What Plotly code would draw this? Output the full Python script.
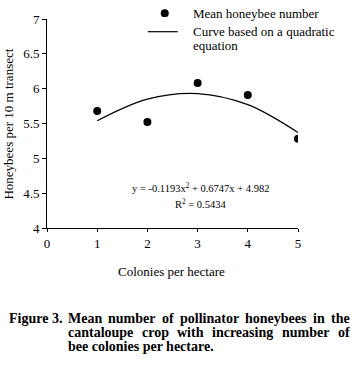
import plotly.graph_objects as go

colonies = [1, 2, 3, 4, 5]
mean_bees = [5.68, 5.52, 6.08, 5.91, 5.28]
curve_x = [1, 2, 3, 4, 5]
curve_y = [5.54, 5.85, 5.93, 5.77, 5.37]
x_ticks = [0, 1, 2, 3, 4, 5]
y_ticks = [4, 4.5, 5, 5.5, 6, 6.5, 7]

W, H = 356, 374
L, R, T, B = 47, 298.5, 14, 228

def px(x):
    return (x - L) / (R - L)

def py(y):
    return (B - y) / (B - T)

SERIF = "Liberation Serif, Times New Roman, serif"

fig = go.Figure()
fig.add_trace(go.Scatter(x=colonies, y=mean_bees, mode="markers",
                         marker=dict(color="black", size=8), showlegend=False))
fig.add_trace(go.Scatter(x=curve_x, y=curve_y, mode="lines", line_shape="spline",
                         line=dict(color="black", width=1.3), showlegend=False))

ann = []
# legend
ann.append(dict(x=px(192), y=py(8), text="Mean honeybee number", xanchor="left", yanchor="middle",
                font=dict(size=13)))
ann.append(dict(x=px(192), y=py(27), text="Curve based on a quadratic", xanchor="left", yanchor="middle",
                font=dict(size=13)))
ann.append(dict(x=px(192), y=py(41), text="equation", xanchor="left", yanchor="middle",
                font=dict(size=13)))
# equation
ann.append(dict(x=px(131), y=py(187), text="y = -0.1193x<sup>2</sup> + 0.6747x + 4.982",
                xanchor="left", yanchor="middle", font=dict(size=10.5)))
ann.append(dict(x=px(174), y=py(203), text="R<sup>2</sup> = 0.5434",
                xanchor="left", yanchor="middle", font=dict(size=10.5)))
# axis titles
ann.append(dict(x=px(8), y=py(122), text="Honeybees per 10 m transect", textangle=-90,
                xanchor="center", yanchor="middle", font=dict(size=13)))
ann.append(dict(x=px(172), y=py(273), text="Colonies per hectare",
                xanchor="center", yanchor="middle", font=dict(size=13)))
# caption (justified lines placed word by word)
cap_font = dict(size=14, family=SERIF, color="black")
ann.append(dict(x=px(8), y=py(321), text="<b>Figure 3.</b>", xanchor="left", yanchor="middle", font=cap_font))
line1 = [("Mean", 67), ("number", 107.5), ("of", 161.2), ("pollinator", 179.2), ("honeybees", 244.6),
         ("in", 312.3), ("the", 330.3)]
for w, xpos in line1:
    ann.append(dict(x=px(xpos), y=py(321), text="<b>" + w + "</b>", xanchor="left", yanchor="middle",
                    font=cap_font))
line2 = [("cantaloupe", 67), ("crop", 140.8), ("with", 176.5), ("increasing", 211.4), ("number", 281.3),
         ("of", 337.2)]
for w, xpos in line2:
    ann.append(dict(x=px(xpos), y=py(335), text="<b>" + w + "</b>", xanchor="left", yanchor="middle",
                    font=cap_font))
ann.append(dict(x=px(67), y=py(349), text="<b>bee colonies per hectare.</b>",
                xanchor="left", yanchor="middle", font=cap_font))

for a in ann:
    a.update(xref="paper", yref="paper", showarrow=False, borderpad=0)
    a["font"] = dict(dict(family=SERIF, color="black"), **a["font"])

# legend symbols drawn as shapes
shapes = [
    dict(type="line", xref="paper", yref="paper", x0=px(148), x1=px(178), y0=py(27), y1=py(27),
         line=dict(color="black", width=1.2)),
    dict(type="circle", xref="paper", yref="paper", x0=px(161), x1=px(169), y0=py(4), y1=py(12),
         fillcolor="black", line=dict(color="black", width=0)),
]

fig.update_layout(
    width=W, height=H,
    margin=dict(l=L, r=W - R, t=T, b=H - B),
    paper_bgcolor="white", plot_bgcolor="white",
    font=dict(family=SERIF, color="black", size=13),
    annotations=ann, shapes=shapes,
    showlegend=False,
    xaxis=dict(range=[0, 5], tickvals=x_ticks, ticktext=[str(v) for v in x_ticks],
               showgrid=False, zeroline=False, showline=True, linecolor="black", linewidth=1,
               ticks="outside", ticklen=3, tickcolor="black", tickfont=dict(size=13)),
    yaxis=dict(range=[4, 7], tickvals=y_ticks, ticktext=[f"{v:g}" for v in y_ticks],
               showgrid=False, zeroline=False, showline=True, linecolor="black", linewidth=1,
               ticks="outside", ticklen=4, tickcolor="black", tickfont=dict(size=13)),
)

fig.write_html("out.html", config={"displayModeBar": False},
               post_script="document.body.style.margin='0';document.body.style.overflow='hidden';")
